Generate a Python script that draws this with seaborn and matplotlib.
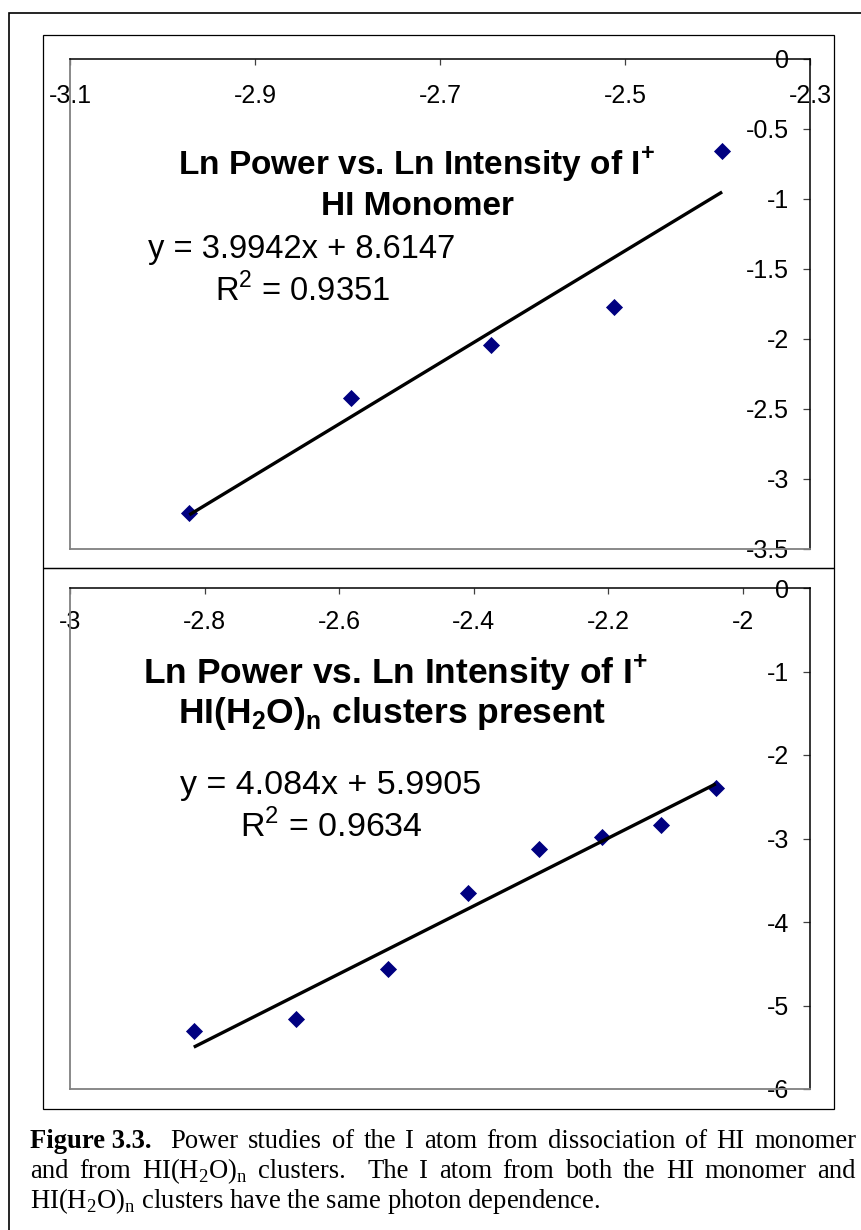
import numpy as np
import matplotlib
matplotlib.use("Agg")
import matplotlib.pyplot as plt
import seaborn as sns
from matplotlib.patches import Rectangle

# ---------------- data ----------------
mono_ln_power = [-2.971, -2.796, -2.645, -2.512, -2.395]
mono_ln_intensity = [-3.24, -2.42, -2.04, -1.77, -0.66]

clus_ln_power = [-2.816, -2.664, -2.528, -2.408, -2.303, -2.209, -2.122, -2.040]
clus_ln_intensity = [-5.31, -5.16, -4.56, -3.65, -3.13, -2.98, -2.84, -2.39]

mono_xticks = [-3.1, -2.9, -2.7, -2.5, -2.3]
mono_yticks = [0, -0.5, -1, -1.5, -2, -2.5, -3, -3.5]
clus_xticks = [-3, -2.8, -2.6, -2.4, -2.2, -2]
clus_yticks = [0, -1, -2, -3, -4, -5, -6]

mono_title = ["Ln Power vs. Ln Intensity of I$^{\\mathbf{+}}$", "HI Monomer"]
mono_eq = ["y = 3.9942x + 8.6147", "R$^{\\mathsf{2}}$ = 0.9351"]
clus_title = ["Ln Power vs. Ln Intensity of I$^{\\mathbf{+}}$",
              "HI(H$_{\\mathbf{2}}$O)$_{\\mathbf{n}}$ clusters present"]
clus_eq = ["y = 4.084x + 5.9905", "R$^{\\mathsf{2}}$ = 0.9634"]

caption_line1 = [("Figure 3.3.", "bold", 0), ("Power", "normal", 2), ("studies", "normal", 1),
                 ("of", "normal", 1), ("the", "normal", 1), ("I", "normal", 1), ("atom", "normal", 1),
                 ("from", "normal", 1), ("dissociation", "normal", 1), ("of", "normal", 1),
                 ("HI", "normal", 1), ("monomer", "normal", 1)]
caption_line2 = [("and", "normal", 0), ("from", "normal", 1),
                 ("HI(H$_\\mathrm{2}$O)$_\\mathrm{n}$", "normal", 1), ("clusters.", "normal", 1),
                 ("The", "normal", 2), ("I", "normal", 1), ("atom", "normal", 1), ("from", "normal", 1),
                 ("both", "normal", 1), ("the", "normal", 1), ("HI", "normal", 1),
                 ("monomer", "normal", 1), ("and", "normal", 1)]
caption_line3 = "HI(H$_\\mathrm{2}$O)$_\\mathrm{n}$ clusters have the same photon dependence."

# ---------------- style ----------------
sns.set_theme(style="white")
plt.rcParams["font.family"] = ["Liberation Sans", "DejaVu Sans"]
plt.rcParams["text.color"] = "black"
plt.rcParams["axes.labelcolor"] = "black"
plt.rcParams["xtick.color"] = "black"
plt.rcParams["ytick.color"] = "black"
plt.rcParams["axes.unicode_minus"] = False
plt.rcParams["mathtext.fontset"] = "custom"
plt.rcParams["mathtext.rm"] = "Liberation Serif"
plt.rcParams["mathtext.sf"] = "Liberation Sans"
plt.rcParams["mathtext.bf"] = "Liberation Sans:bold"

NAVY = "#000080"
SERIF = ["Liberation Serif", "DejaVu Serif"]
W, H = 862, 1230
PT = 100 / 72.0  # px per point

fig = plt.figure(figsize=(W / 100, H / 100), dpi=100, facecolor="white")


def fx(x):
    return x / W


def fy(y):
    return 1 - y / H


def add_axes(left, top, right, bottom):
    return fig.add_axes([left / W, 1 - bottom / H, (right - left) / W, (bottom - top) / H])


def fmt(v):
    return f"{v:g}"


def style_axes(ax, xlim, ylim, xticks, yticks, xlab_off_px):
    ax.set_xlim(*xlim)
    ax.set_ylim(*ylim)
    ax.set_xticks(xticks)
    ax.set_xticklabels([fmt(v) for v in xticks])
    ax.set_yticks(yticks)
    ax.set_yticklabels([fmt(v) for v in yticks])
    ax.set_xlabel("")
    ax.set_ylabel("")
    ax.grid(False)
    ax.set_facecolor("white")
    ax.xaxis.set_ticks_position("top")
    ax.yaxis.set_ticks_position("right")
    ax.tick_params(axis="x", direction="in", length=4, width=0.9, color="#404040",
                   labeltop=True, labelbottom=False, labelsize=18, labelcolor="black",
                   pad=-xlab_off_px / PT)
    ax.tick_params(axis="y", direction="in", length=5, width=0.9, color="#404040",
                   labelright=True, labelleft=False, labelsize=18, labelcolor="black",
                   pad=-21 / PT)
    for lbl in ax.get_xticklabels():
        lbl.set_va("center")
    for lbl in ax.get_yticklabels():
        lbl.set_ha("right")
    for s in ["top", "right"]:
        ax.spines[s].set_color("black")
        ax.spines[s].set_linewidth(1.1)
    for s in ["left", "bottom"]:
        ax.spines[s].set_color("#808080")
        ax.spines[s].set_linewidth(1.3)
    for sp in ax.spines.values():
        sp.set_visible(True)


# ---------------- frames ----------------
fig.add_artist(Rectangle((fx(9), fy(1260)), (900 - 9) / W, (1260 - 13) / H,
                         transform=fig.transFigure, fill=False, lw=1.2, ec="black"))
fig.add_artist(Rectangle((fx(43), fy(568)), (834 - 43) / W, (568 - 35) / H,
                         transform=fig.transFigure, fill=False, lw=0.9, ec="black"))
fig.add_artist(Rectangle((fx(43), fy(1109)), (834 - 43) / W, (1109 - 568) / H,
                         transform=fig.transFigure, fill=False, lw=0.9, ec="black"))

# ---------------- top panel ----------------
ax1 = add_axes(70, 59, 810, 549)
sns.regplot(x=mono_ln_power, y=mono_ln_intensity, ax=ax1, ci=None, marker="D", truncate=True,
            scatter_kws=dict(s=76, color=NAVY, alpha=1, linewidths=0),
            line_kws=dict(color="black", lw=2.4, solid_capstyle="butt"))
style_axes(ax1, (-3.1, -2.3), (-3.5, 0), mono_xticks, mono_yticks, 37.5)

# ---------------- bottom panel ----------------
ax2 = add_axes(70, 588, 810, 1089)
sns.regplot(x=clus_ln_power, y=clus_ln_intensity, ax=ax2, ci=None, marker="D", truncate=True,
            scatter_kws=dict(s=76, color=NAVY, alpha=1, linewidths=0),
            line_kws=dict(color="black", lw=2.4, solid_capstyle="butt"))
style_axes(ax2, (-3.0, -1.9), (-6, 0), clus_xticks, clus_yticks, 34)

# ---------------- chart texts ----------------
fig.text(fx(416), fy(175), mono_title[0], fontsize=24, fontweight="bold", ha="center", va="baseline")
fig.text(fx(418), fy(215), mono_title[1], fontsize=24, fontweight="bold", ha="center", va="baseline")
fig.text(fx(302), fy(258), mono_eq[0], fontsize=23.5, ha="center", va="baseline")
fig.text(fx(302), fy(301), mono_eq[1], fontsize=23.5, ha="center", va="baseline")

fig.text(fx(396), fy(684), clus_title[0], fontsize=25.5, fontweight="bold", ha="center", va="baseline")
fig.text(fx(392), fy(723), clus_title[1], fontsize=25.5, fontweight="bold", ha="center", va="baseline")
fig.text(fx(331), fy(794), clus_eq[0], fontsize=24.5, ha="center", va="baseline")
fig.text(fx(331), fy(837), clus_eq[1], fontsize=24.5, ha="center", va="baseline")

# ---------------- caption (justified) ----------------
CAP_SIZE = 19.2
X0, X1 = 30, 856


def justified_line(tokens, y_base):
    arts = []
    for txt, wt, gap in tokens:
        t = fig.text(0, fy(y_base), txt, family=SERIF, fontsize=CAP_SIZE, fontweight=wt,
                     ha="left", va="baseline")
        arts.append((t, gap))
    fig.canvas.draw()
    r = fig.canvas.get_renderer()
    widths = [t.get_window_extent(r).width for t, _ in arts]
    total_gap = sum(g for _, g in arts)
    unit = ((X1 - X0) - sum(widths)) / total_gap
    x = X0
    for (t, g), w in zip(arts, widths):
        x += g * unit
        t.set_x(fx(x))
        x += w


justified_line(caption_line1, 1148)
justified_line(caption_line2, 1178)
fig.text(fx(X0), fy(1208), caption_line3, family=SERIF, fontsize=CAP_SIZE, ha="left", va="baseline")

fig.savefig("out.png", dpi=100, facecolor="white")
